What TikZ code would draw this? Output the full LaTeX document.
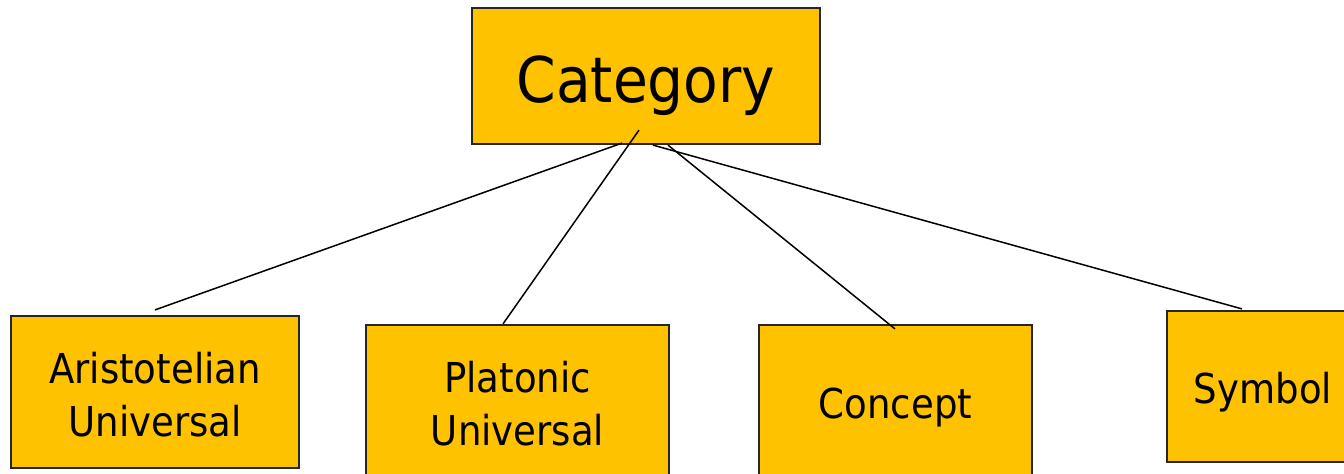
\documentclass[tikz,border=0pt]{standalone}
\usepackage{fontspec}
\setmainfont{DejaVu Sans Condensed}
\usetikzlibrary{calc}
\definecolor{boxfill}{RGB}{255,194,0}
\begin{document}
\begin{tikzpicture}[x=0.5pt,y=-0.5pt,
  catbox/.style={draw=black!85, line width=1.1pt, fill=boxfill, inner sep=0pt, align=center},
  smalltext/.style={font=\fontsize{20.6}{26.5}\selectfont},
  link/.style={draw=black, line width=0.75pt}]
\useasboundingbox (0,0) rectangle (1344,473);

% top category
\node[catbox, minimum width=174pt, minimum height=68pt,
      font=\fontsize{31.5}{36}\selectfont, text height=26pt, text depth=0pt]
      (cat) at (646,76) {Category};

% the four kinds
\node[catbox, smalltext, minimum width=144pt, minimum height=76pt,
      text height=44.5pt]
      (ari) at (155,392) {Aristotelian\\Universal};
\node[catbox, smalltext, minimum width=151.5pt, minimum height=76pt,
      text height=44.5pt]
      (pla) at (517.5,401) {Platonic\\Universal};
\node[catbox, smalltext, minimum width=136.5pt, minimum height=76pt,
      text height=17pt, text depth=0pt]
      (con) at (895.5,401) {Concept};
\node[catbox, smalltext, minimum width=96pt, minimum height=75.5pt,
      text height=16.5pt, text depth=0pt]
      (sym) at (1263,386.5) {Symbol};

% connector ends
\coordinate (c1) at ($(cat.south)+(-24,-2)$);
\coordinate (c2) at ($(cat.south)+(-7,-15)$);
\coordinate (c3) at ($(cat.south)+(22,0)$);
\coordinate (c4) at ($(cat.south)+(7,0)$);
\coordinate (t1) at ($(ari.north)+(0,-5)$);
\coordinate (t2) at ($(pla.north)+(-14.5,0)$);
\coordinate (t3) at ($(con.north)+(-0.5,5)$);
\coordinate (t4) at ($(sym.north)+(-21,-1)$);

\draw[link] (c1) -- (t1);
\draw[link] (c2) -- (t2);
\draw[link] (c3) -- (t3);
\draw[link] (c4) -- (t4);
\end{tikzpicture}
\end{document}
